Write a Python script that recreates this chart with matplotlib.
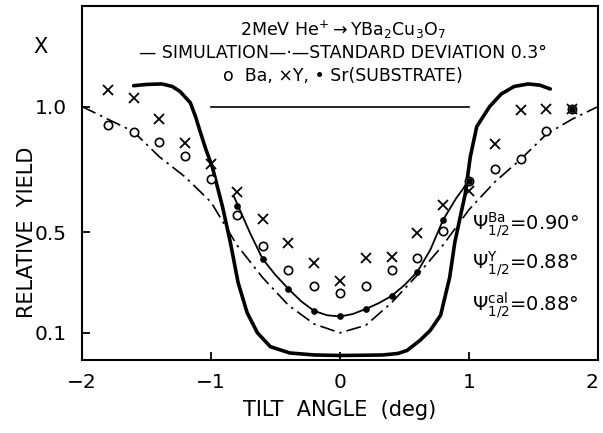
import matplotlib
matplotlib.use("Agg")
import matplotlib.pyplot as plt

# tilt angles of the measured points (deg)
angles = [-1.8, -1.6, -1.4, -1.2, -1.0, -0.8, -0.6, -0.4, -0.2, 0.0,
          0.2, 0.4, 0.6, 0.8, 1.0, 1.2, 1.4, 1.6, 1.8]
yield_y = [1.064, 1.036, 0.952, 0.857, 0.773, 0.661, 0.554, 0.458, 0.379, 0.307,
           0.398, 0.402, 0.498, 0.610, 0.663, 0.850, 0.986, 0.990, 0.990]
yield_ba = [0.928, 0.900, 0.860, 0.805, 0.713, 0.570, 0.446, 0.351, 0.287, 0.259,
            0.287, 0.351, 0.398, 0.506, 0.705, 0.752, 0.791, 0.902, 0.990]

sr_angles = [-0.8, -0.6, -0.4, -0.2, 0.0, 0.2, 0.4, 0.6, 0.8, 1.0, 1.8]
yield_sr = [0.605, 0.394, 0.275, 0.187, 0.167, 0.195, 0.247, 0.343, 0.550, 0.705, 0.990]

# thin hand-drawn line through the Sr points
sr_fit_x = [-0.82, -0.70, -0.60, -0.50, -0.40, -0.30, -0.20, -0.10, 0.0, 0.10,
            0.20, 0.30, 0.40, 0.50, 0.60, 0.70, 0.80, 0.90, 1.0]
sr_fit_y = [0.64, 0.50, 0.394, 0.33, 0.275, 0.225, 0.187, 0.170, 0.165, 0.175,
            0.195, 0.218, 0.247, 0.290, 0.343, 0.43, 0.55, 0.635, 0.705]

# simulation (thick solid)
sim_x = [-1.60, -1.50, -1.38, -1.30, -1.24, -1.16, -1.12, -1.09, -1.04, -0.99,
         -0.91, -0.85, -0.79, -0.72, -0.64, -0.54, -0.39, -0.20, 0.0, 0.20,
         0.33, 0.45, 0.52, 0.62, 0.70, 0.78, 0.85, 0.89, 0.94, 0.97,
         1.01, 1.06, 1.16, 1.25, 1.35, 1.46, 1.55, 1.63]
sim_y = [1.083, 1.088, 1.090, 1.080, 1.060, 1.015, 0.960, 0.910, 0.830, 0.760,
         0.600, 0.460, 0.300, 0.180, 0.100, 0.045, 0.020, 0.012, 0.010, 0.011,
         0.012, 0.018, 0.030, 0.070, 0.110, 0.170, 0.320, 0.460, 0.580, 0.650,
         0.800, 0.920, 1.000, 1.050, 1.080, 1.090, 1.085, 1.070]

# standard deviation 0.3 deg (dash-dot)
sd_x = [-2.0, -1.8, -1.6, -1.4, -1.2, -1.0, -0.8, -0.6, -0.4, -0.2, 0.0,
        0.2, 0.4, 0.6, 0.8, 1.0, 1.2, 1.4, 1.6, 1.8, 2.0]
sd_y = [1.00, 0.95, 0.90, 0.80, 0.72, 0.62, 0.45, 0.32, 0.21, 0.135, 0.10,
        0.13, 0.22, 0.33, 0.45, 0.59, 0.70, 0.79, 0.89, 0.95, 1.00]

x_ticks = [-2, -1, 0, 1, 2]
y_ticks = [0.1, 0.5, 1.0]

fig = plt.figure(figsize=(6.03, 4.33), dpi=100)
ax = fig.add_axes([82 / 603, 73 / 433, 516 / 603, 354 / 433])

ax.plot(sim_x, sim_y, color="black", lw=2.6, solid_capstyle="round")
ax.plot(sd_x, sd_y, color="black", lw=1.2, dashes=(9, 3, 1.5, 3))
ax.plot(sr_fit_x, sr_fit_y, color="black", lw=1.3)
ax.plot([-1.0, 1.0], [1.0, 1.0], color="black", lw=1.2)

ax.plot(angles, yield_y, "x", color="black", ms=6.5, mew=1.3)
ax.plot(angles, yield_ba, "o", mfc="white", mec="black", ms=6, mew=1.2)
ax.plot(sr_angles, yield_sr, "o", color="black", ms=3.8)

ax.set_xlim(-2, 2)
ax.set_ylim(-0.008, 1.40)
ax.set_xticks(x_ticks)
ax.set_xticklabels(["\u22122", "\u22121", "0", "1", "2"])
ax.set_yticks(y_ticks)
ax.set_yticklabels(["0.1", "0.5", "1.0"])
ax.tick_params(direction="in", length=6, width=1.3, labelsize=14.5, pad=9)
ax.tick_params(axis="y", pad=11)
ax.get_xticklabels()[-1].set_ha("right")
for s in ax.spines.values():
    s.set_linewidth(1.5)

# header text
ax.text(0.02, 1.305, r"2MeV He$^{+}$$\rightarrow$YBa$_2$Cu$_3$O$_7$",
        ha="center", va="center", fontsize=12.5)
ax.text(0.02, 1.215, "\u2014 SIMULATION\u2014\u00b7\u2014STANDARD DEVIATION 0.3\u00b0",
        ha="center", va="center", fontsize=12.5)
ax.text(0.02, 1.12, "o  Ba, \u00d7Y, \u2022 Sr(SUBSTRATE)",
        ha="center", va="center", fontsize=12.5)

# half-angle annotations
ax.text(1.02, 0.526, r"$\Psi^{\mathrm{Ba}}_{1/2}$=0.90" + "\u00b0",
        ha="left", va="center", fontsize=14)
ax.text(1.02, 0.37, r"$\Psi^{\mathrm{Y}}_{1/2}$=0.88" + "\u00b0",
        ha="left", va="center", fontsize=14)
ax.text(1.02, 0.207, r"$\Psi^{\mathrm{cal}}_{1/2}$=0.88" + "\u00b0",
        ha="left", va="center", fontsize=14)

fig.text(40 / 603, 1 - 47 / 433, "X", ha="center", va="center", fontsize=15)
fig.text(27 / 603, 1 - 232 / 433, "RELATIVE  YIELD", rotation=90,
         ha="center", va="center", fontsize=15)
fig.text(340 / 603, 1 - 410 / 433, "TILT  ANGLE  (deg)",
         ha="center", va="center", fontsize=15)

fig.savefig("out.png", dpi=100)
